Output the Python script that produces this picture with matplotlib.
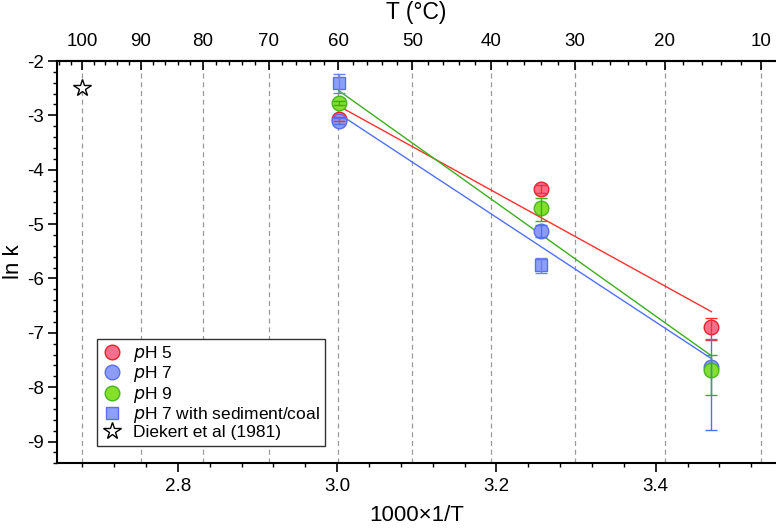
import numpy as np
import matplotlib
matplotlib.use("Agg")
import matplotlib.pyplot as plt
from matplotlib.ticker import MultipleLocator, FixedLocator

plt.rcParams['font.family'] = ['Liberation Sans', 'DejaVu Sans']
plt.rcParams['axes.unicode_minus'] = False

# ---- data ----
inv_T = [3.002, 3.256, 3.470]          # 1000/T  (60, 34, 15 °C)
ph5 = [-3.07, -4.35, -6.90]
ph5_lo = [0.04, 0.08, 0.23]
ph5_hi = [0.04, 0.07, 0.18]
ph7 = [-3.10, -5.13, -7.63]
ph7_lo = [0.05, 0.10, 1.15]
ph7_hi = [0.05, 0.12, 0.51]
ph9 = [-2.77, -4.70, -7.69]
ph9_lo = [0.04, 0.24, 0.45]
ph9_hi = [0.04, 0.18, 0.29]
sed_x = [3.002, 3.256]
sed = [-2.40, -5.76]
sed_lo = [0.19, 0.14]
sed_hi = [0.17, 0.14]
diek_x = [2.680]
diek = [-2.50]
top_T = [100, 90, 80, 70, 60, 50, 40, 30, 20, 10]
top_minor_T = list(range(0, 112, 2))
bottom_ticks = [2.8, 3.0, 3.2, 3.4]

W, H = 776, 529
L, R, TOP, BOT = 56.7, 776, 61, 463.3
fig = plt.figure(figsize=(W/100, H/100), dpi=100)
ax = fig.add_axes([L/W, 1-BOT/H, (R-L)/W, (BOT-TOP)/H])

def T2x(T):
    return 1000.0/(np.asarray(T, float)+273.15)

# dashed vertical gridlines at top ticks
for xv in T2x(top_T):
    ax.axvline(xv, color='#9a9a9a', ls=(0, (4, 3)), lw=0.9, zorder=0)

series = [
    (ph5, ph5_lo, ph5_hi, '#f5708c', '#e8202c', '#ff3030', r'$p$H 5'),
    (ph7, ph7_lo, ph7_hi, '#8c9cf2', '#5a6ef0', '#5070ff', r'$p$H 7'),
    (ph9, ph9_lo, ph9_hi, '#84e02a', '#46b81c', '#3cae1e', r'$p$H 9'),
]
handles = []
xs = np.array(inv_T)
for i, (y, lo, hi, fc, ec, lc, lab) in enumerate(series):
    y = np.array(y)
    p = np.polyfit(xs, y, 1)
    xl = np.array([xs.min(), xs.max()])
    ax.plot(xl, np.polyval(p, xl), color=lc, lw=1.0, zorder=2)
    ax.errorbar(xs, y, yerr=[lo, hi], fmt='none', ecolor=lc, elinewidth=1.0,
                capsize=4, capthick=1.0, zorder=4)
    h, = ax.plot(xs, y, 'o', ms=10.5, mfc=fc, mec=ec, mew=1.0, ls='none',
                 zorder=3 + i*0.1, label=lab)
    handles.append(h)

ax.errorbar(sed_x, sed, yerr=[sed_lo, sed_hi], fmt='none', ecolor='#6a80f5',
            elinewidth=1.0, capsize=4, capthick=1.0, zorder=4)
h, = ax.plot(sed_x, sed, 's', ms=9, mfc='#8ca0f5', mec='#5a6ef0', mew=1.0,
             ls='none', zorder=3.5, label=r'$p$H 7 with sediment/coal')
handles.append(h)
h, = ax.plot(diek_x, diek, '*', ms=13, mfc='white', mec='black', mew=1.0,
             ls='none', zorder=3.5, label='Diekert et al (1981)')
handles.append(h)

ax.set_xlim(2.648, 3.551)
ax.set_ylim(-9.4, -2)

ax.xaxis.set_major_locator(FixedLocator(bottom_ticks))
ax.xaxis.set_minor_locator(MultipleLocator(0.04))
ax.yaxis.set_major_locator(MultipleLocator(1))
ax.yaxis.set_minor_locator(MultipleLocator(0.2))
ax.set_xticklabels(['2.8', '3.0', '3.2', '3.4'])
ax.tick_params(axis='both', which='major', direction='out', length=6.5, width=1.2,
               labelsize=13.5)
ax.tick_params(axis='both', which='minor', direction='out', length=3.2, width=1.0)
ax.tick_params(axis='x', pad=4)
ax.tick_params(axis='y', pad=3)

for s in ['left', 'bottom', 'top']:
    ax.spines[s].set_linewidth(1.5)
ax.spines['right'].set_visible(False)

ax.set_xlabel('1000×1/T', fontsize=16, labelpad=7)
ax.set_ylabel('ln k', fontsize=16, labelpad=2)

# top axis
ax2 = ax.twiny()
ax2.set_xlim(ax.get_xlim())
ax2.xaxis.set_major_locator(FixedLocator(T2x(top_T)))
ax2.xaxis.set_minor_locator(FixedLocator(T2x(top_minor_T)))
ax2.set_xticklabels([str(t) for t in top_T])
ax2.tick_params(axis='x', which='major', direction='in', length=6.5, width=1.2,
                labelsize=13.5, pad=8)
ax2.tick_params(axis='x', which='minor', direction='in', length=3.2, width=1.0)
ax2.set_xlabel('T (°C)', fontsize=16.5, labelpad=10)
for s in ['left', 'right', 'bottom']:
    ax2.spines[s].set_visible(False)
ax2.spines['top'].set_linewidth(1.5)

leg = ax.legend(handles=handles, loc='lower left',
                bbox_to_anchor=((96.7-L)/(R-L), (BOT-445.7)/(BOT-TOP)), borderaxespad=0,
                fontsize=12.5, frameon=True, fancybox=False, framealpha=1,
                edgecolor='#333333', handlelength=1.2, handletextpad=0.6,
                labelspacing=0.02, borderpad=0.3)
leg.get_frame().set_linewidth(1.0)

fig.savefig('out.png', dpi=100)
